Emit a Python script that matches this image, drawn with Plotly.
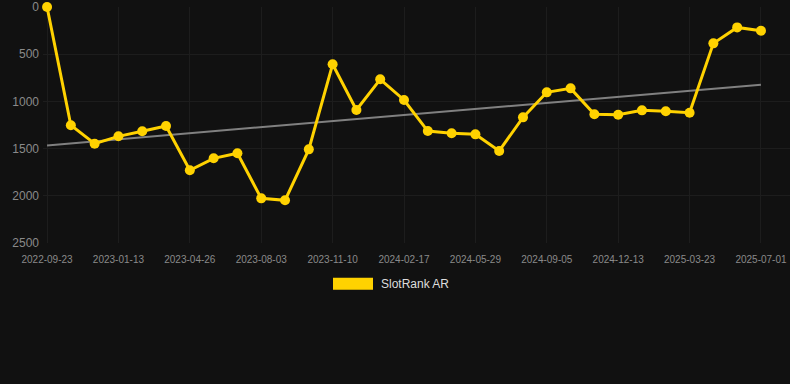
import numpy as np
import plotly.graph_objects as go

dates = [
    "2022-09-23", "2022-10-30", "2022-12-06", "2023-01-13", "2023-02-15", "2023-03-22",
    "2023-04-26", "2023-05-29", "2023-07-01", "2023-08-03", "2023-09-05", "2023-10-08",
    "2023-11-10", "2023-12-13", "2024-01-15", "2024-02-17", "2024-03-21", "2024-04-25",
    "2024-05-29", "2024-07-01", "2024-08-03", "2024-09-05", "2024-10-08", "2024-11-10",
    "2024-12-13", "2025-01-15", "2025-02-17", "2025-03-23", "2025-04-25", "2025-05-29",
    "2025-07-01",
]
rank = [
    0, 1253, 1448, 1370, 1317, 1260, 1730, 1603, 1550, 2027, 2048, 1508, 607, 1091, 766,
    985, 1314, 1338, 1349, 1525, 1169, 904, 862, 1137, 1141, 1095, 1105, 1120, 385, 216, 251,
]
tick_dates = dates[::3]
y_ticks = [0, 500, 1000, 1500, 2000, 2500]
series_name = "SlotRank AR"

GOLD = "#FFD200"
BG = "#111111"
GRID = "#1d1d1d"

idx = np.arange(len(rank))
slope, intercept = np.polyfit(idx, rank, 1)
trend_x = [dates[0], dates[-1]]
trend_y = [intercept, intercept + slope * idx[-1]]

fig = go.Figure()
fig.add_trace(go.Scatter(
    x=trend_x, y=trend_y, mode="lines",
    line=dict(color="#808080", width=2), hoverinfo="skip", showlegend=False,
))
fig.add_trace(go.Scatter(
    x=dates, y=rank, mode="lines+markers", name=series_name,
    line=dict(color=GOLD, width=3),
    marker=dict(color=GOLD, size=10),
    cliponaxis=False, showlegend=False,
))

fig.update_layout(
    width=790, height=384,
    paper_bgcolor=BG, plot_bgcolor=BG,
    margin=dict(l=43, r=0, t=7, b=141),
    font=dict(family="Liberation Sans, Arial, sans-serif", color="#8a8a8a"),
    showlegend=False,
    xaxis=dict(
        type="category", categoryorder="array", categoryarray=dates,
        range=[-0.17, len(dates) - 1 + 1.22],
        tickmode="array", tickvals=tick_dates, ticktext=tick_dates,
        tickfont=dict(size=10, color="#8a8a8a"),
        ticklabelstandoff=9,
        showgrid=True, gridcolor=GRID, gridwidth=1,
        zeroline=False, showline=False, ticks="",
    ),
    yaxis=dict(
        range=[2500, 0],
        tickmode="array", tickvals=y_ticks,
        tickfont=dict(size=12, color="#8a8a8a"),
        ticklabelstandoff=3,
        showgrid=True, gridcolor=GRID, gridwidth=1,
        zeroline=False, showline=False, ticks="",
    ),
    shapes=[dict(
        type="rect", xref="paper", yref="paper",
        x0=(333 - 43) / 747, x1=(373 - 43) / 747,
        y0=(243.3 - 290) / 236.3, y1=(243.3 - 278) / 236.3,
        fillcolor=GOLD, line=dict(width=0),
    )],
    annotations=[dict(
        xref="paper", yref="paper",
        x=(379 - 43) / 747, y=(243.3 - 284) / 236.3,
        xanchor="left", yanchor="middle", showarrow=False,
        text=series_name, font=dict(size=12, color="#dddddd"),
    )],
)

fig.write_html(
    "out.html",
    config={"displayModeBar": False},
    post_script="document.body.style.margin='0';document.body.style.background='#111111';document.body.style.overflow='hidden';",
)
